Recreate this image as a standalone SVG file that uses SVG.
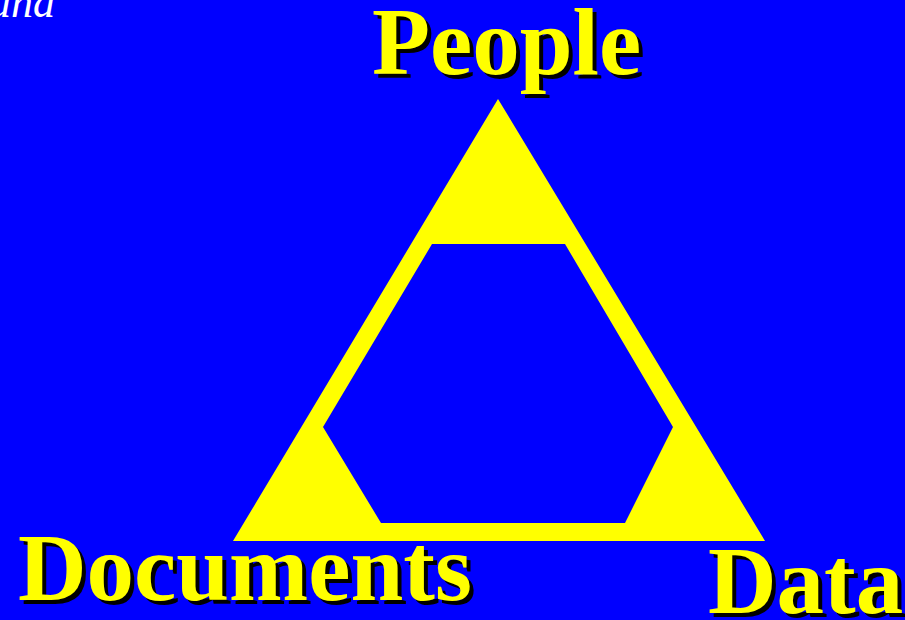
<svg xmlns="http://www.w3.org/2000/svg" width="905" height="620" viewBox="0 0 905 620">
<style>
.lbl{font-family:"Liberation Serif","Times New Roman",serif;font-weight:bold;font-size:95px}
.sh{fill:#000}
.fg{fill:#FFFF00}
</style>
<rect width="905" height="620" fill="#0000FF"/>
<text x="-11" y="17" font-family="Liberation Serif, serif" font-style="italic" font-size="44" fill="#FFFFFF">and</text>
<g id="triangle">
<path d="M498,99 L765,541 L233,541 Z M432,244 L323,427 L381,523 L625,523 L673,427 L565,244 Z" fill="#FFFF00" fill-rule="evenodd"/>
</g>
<g id="people">
<text class="lbl sh" x="376" y="78">People</text>
<text class="lbl fg" x="372" y="74">People</text>
</g>
<g id="documents">
<text class="lbl sh" x="22" y="604" font-size="96">Documents</text>
<text class="lbl fg" x="18" y="600" font-size="96">Documents</text>
</g>
<g id="data">
<text class="lbl sh" x="712" y="617">Data</text>
<text class="lbl fg" x="708" y="613">Data</text>
</g>
<g id="connectors"></g>
</svg>
